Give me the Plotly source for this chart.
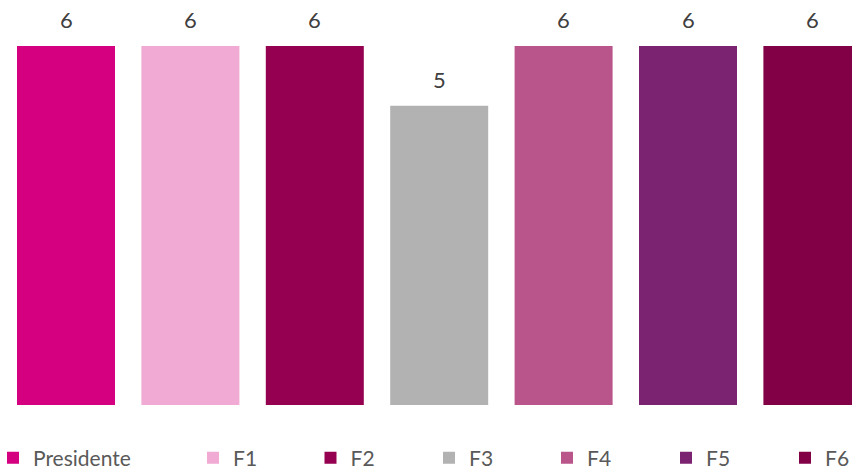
import plotly.graph_objects as go

# categories and values
names = ["Presidente", "F1", "F2", "F3", "F4", "F5", "F6"]
values = [6, 6, 6, 5, 6, 6, 6]
colors = ["#D5007F", "#F0AAD3", "#960050", "#B2B2B2", "#B9558A", "#7B2270", "#820046"]

# legend marker centres (px) in the original
legend_px = [20, 220, 337.5, 456, 574, 693, 812]

W, H = 852, 468
plot_bottom = 405

fig = go.Figure()
layout_legends = {}
for i, (n, v, c) in enumerate(zip(names, values, colors)):
    key = "legend" if i == 0 else f"legend{i + 1}"
    fig.add_trace(go.Bar(
        x=[i], y=[v], name=n,
        marker=dict(color=c, line=dict(width=0)),
        legend=key,
        hoverinfo="name+y",
    ))
    layout_legends[key] = dict(
        x=(legend_px[i] - 27) / W,
        xanchor="left",
        y=(plot_bottom - 458) / plot_bottom,
        yanchor="middle",
        font=dict(family="Lato", size=21, color="#595959"),
        bgcolor="rgba(0,0,0,0)",
        borderwidth=0,
        itemwidth=30,
    )

# value labels above bars
for i, v in enumerate(values):
    fig.add_annotation(
        x=i, y=v, text=str(v), showarrow=False,
        yanchor="bottom", yshift=11,
        font=dict(family="Lato", size=22, color="#404040"),
    )

cat_px = 124.4
first_center = 66
unit_px = (plot_bottom - 46) / 6

fig.update_layout(
    width=W, height=H,
    margin=dict(l=0, r=0, t=0, b=H - plot_bottom, autoexpand=False),
    plot_bgcolor="white", paper_bgcolor="white",
    bargap=1 - 98 / cat_px,
    showlegend=True,
    xaxis=dict(
        range=[-first_center / cat_px, -first_center / cat_px + W / cat_px],
        showticklabels=False, showgrid=False, zeroline=False, showline=False,
    ),
    yaxis=dict(
        range=[0, plot_bottom / unit_px],
        showticklabels=False, showgrid=False, zeroline=False, showline=False,
    ),
    **layout_legends,
)

# page body has a default 8px margin; drop it so the figure fills the window
fig.write_html("out.html", config={"displayModeBar": False},
               post_script="document.body.style.margin='0';")
